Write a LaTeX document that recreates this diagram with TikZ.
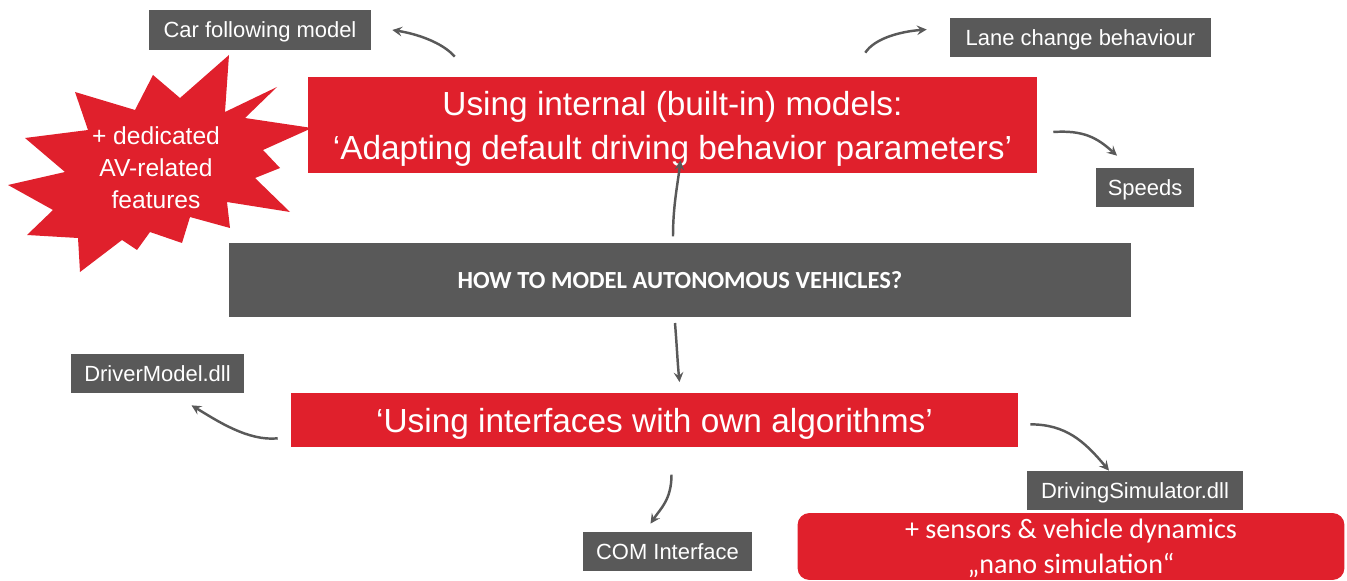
\documentclass[tikz,border=0pt]{standalone}
\usepackage{fontspec}
\setmainfont{Liberation Sans}
\newfontfamily\calibri{Carlito}
\usepackage{xcolor}
\usepackage{tikz}
\usetikzlibrary{arrows, positioning, calc}

\definecolor{avred}{RGB}{224,32,44}
\definecolor{avgray}{RGB}{89,89,89}

\begin{document}
\begin{tikzpicture}[
    x=0.02cm, y=0.02cm,
    tagbox/.style={fill=avgray, text=white, inner sep=0pt, text depth=0pt, minimum height=0.78cm, font=\fontsize{12.5}{15}\selectfont},
    redbox/.style={fill=avred, text=white, inner sep=0pt, text depth=0pt, align=center, font=\fontsize{19}{25}\selectfont},
    conn/.style={->, >=stealth, line width=1.4pt, draw=avgray}
]
\useasboundingbox (0,0) rectangle (1347,-581);

% star behind the upper red box
\fill[avred] (229,-55) -- (225,-112) -- (277,-87) -- (245,-118) -- (312,-128) -- (263,-150)
    -- (280,-168) -- (255,-178) -- (290,-212) -- (227,-202) -- (230,-228) -- (190,-217)
    -- (182,-243) -- (150,-232) -- (137,-250) -- (122,-240) -- (80,-272) -- (78,-238)
    -- (27,-235) -- (53,-210) -- (8,-185) -- (65,-172) -- (25,-138) -- (88,-130)
    -- (75,-92) -- (135,-110) -- (153,-75) -- (180,-98) -- cycle;
\node (burst) [text=white, align=center, font=\fontsize{14}{18.2}\selectfont] at (156,-168) {+ dedicated\\AV-related\\features};

\node (internal) [redbox, minimum width=14.58cm, minimum height=1.92cm] at (672.5,-125)
    {Using internal (built-in) models:\\‘Adapting default driving behavior parameters’};
\node (question) [fill=avgray, text=white, minimum width=18.04cm, minimum height=1.48cm, font=\calibri\bfseries\fontsize{14}{17}\selectfont,
    below=1.38cm of internal, xshift=0.15cm] {HOW TO MODEL AUTONOMOUS VEHICLES?};
\node (own) [redbox, minimum width=14.54cm, minimum height=1.08cm, below=1.52cm of question, xshift=-0.51cm]
    {‘Using interfaces with own algorithms’};

\node (car) [tagbox, minimum width=4.44cm, minimum height=0.8cm] at (260,-30) {Car following model};
\node (lane) [tagbox, minimum width=5.22cm] at (1080.5,-37.5) {Lane change behaviour};
\node (speeds) [tagbox, minimum width=1.96cm] at (1145,-187.5) {Speeds};
\node (driver) [tagbox, minimum width=3.46cm] at (157.5,-373.5) {DriverModel.dll};
\node (com) [tagbox, minimum width=3.38cm] at (667.5,-551.5) {COM Interface};
\node (sim) [tagbox, minimum width=4.32cm] at (1135,-490.5) {DrivingSimulator.dll};
\node (nano) [fill=avred, text=white, rounded corners=0.24cm, text depth=0pt, minimum width=10.94cm, minimum height=1.34cm, align=center,
    font=\calibri\fontsize{16}{20}\selectfont] at (1071,-546.5) {+ sensors \& vehicle dynamics\\„nano simulation“};

\draw[conn] ($(internal.north west)+(147,20)$) .. controls +(-12,14) and +(25,-4) .. ($(car.east)+(21,0)$);
\draw[conn] ($(internal.north east)+(-172,24)$) .. controls +(10,15) and +(-25,-2) .. ($(lane.west)+(-23,8)$);
\draw[conn] ($(internal.east)+(16,-7)$) .. controls +(30,2) and +(-20,18) .. ($(speeds.north)+(-28,12)$);
\draw[conn] ($(question.north)+(-7,6)$) .. controls +(0,30) and +(-3,-25) .. ($(internal.south)+(8,13)$);
\draw[conn] ($(question.south)+(-5,-6)$) .. controls +(2,-25) and +(-2,20) .. ($(own.north)+(25,11)$);
\draw[conn] ($(own.west)+(-13,-18)$) .. controls +(-30,-3) and +(25,-15) .. ($(driver.south)+(34,-12)$);
\draw[conn] ($(own.east)+(12,-4)$) .. controls +(35,0) and +(-25,30) .. ($(sim.north)+(-26,0)$);
\draw[conn] ($(own.south)+(17,-27)$) .. controls +(0,-25) and +(10,15) .. ($(com.north)+(-17,8)$);
\end{tikzpicture}
\end{document}
